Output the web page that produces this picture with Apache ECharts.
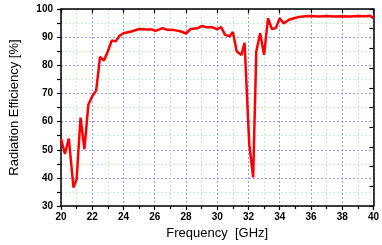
<!DOCTYPE html>
<html><head><meta charset="utf-8">
<script src="https://cdn.jsdelivr.net/npm/echarts@6/dist/echarts.min.js"></script>
<style>html,body{margin:0;padding:0;background:#fff}#c{width:382px;height:245px}</style>
</head><body><div id="c"></div>
<script>
const freq = [20, 20.25, 20.5, 20.8, 21.0, 21.25, 21.5, 21.75, 22, 22.25, 22.5, 22.75, 23, 23.25, 23.5, 23.75, 24, 24.5, 25, 25.5, 25.85, 26.05, 26.5, 26.8, 27.25, 27.7, 28, 28.3, 28.75, 29.05, 29.3, 29.7, 30, 30.25, 30.5, 30.8, 31, 31.25, 31.55, 31.75, 32.05, 32.3, 32.5, 32.75, 33, 33.25, 33.5, 33.75, 34, 34.25, 34.6, 34.9, 35.25, 35.6, 36, 36.5, 37, 37.5, 38, 38.5, 39, 39.5, 39.8, 40];
const efficiency = [54, 48.5, 54, 36.6, 39.6, 61.4, 50.2, 66, 69, 71, 83, 81.7, 85, 88.8, 88.5, 90.5, 91.4, 92, 92.9, 92.7, 92.7, 92.2, 93.2, 92.6, 92.5, 92, 91.3, 92.9, 93.2, 94, 93.5, 93.5, 92.8, 93.6, 90.8, 90.3, 91.8, 84.9, 83.7, 88, 52, 40.2, 84.9, 91.4, 83.7, 96.7, 92.9, 93.2, 96.7, 94.9, 96.2, 96.7, 97.2, 97.4, 97.5, 97.3, 97.5, 97.3, 97.4, 97.3, 97.5, 97.4, 97.6, 96.7];
const xTitle = 'Frequency  [GHz]';
const yTitle = 'Radiation Efficiency [%]';

const chart = echarts.init(document.getElementById('c'), null, {renderer: 'canvas'});
const labelStyle = {fontFamily: 'Liberation Sans, Arial, sans-serif', fontWeight: 'bold', fontSize: 10, color: '#000'};
const axisLine = {show: true, lineStyle: {color: '#000', width: 1.5}};
chart.setOption({
  animation: false,
  backgroundColor: '#fff',
  grid: {left: 60, right: 8, top: 9, bottom: 38},
  xAxis: [{
    type: 'value', min: 20, max: 40, interval: 2,
    name: xTitle, nameLocation: 'middle', nameGap: 20,
    nameTextStyle: {fontFamily: 'Liberation Sans, Arial, sans-serif', fontSize: 13, color: '#000'},
    axisLine: axisLine,
    axisTick: {show: true, inside: false, length: 4, lineStyle: {color: '#000', width: 1.2}},
    minorTick: {show: true, splitNumber: 2, length: 3, lineStyle: {color: '#000', width: 1.2}},
    axisLabel: Object.assign({margin: 6}, labelStyle),
    splitLine: {show: true, lineStyle: {color: '#9999ff', type: [2, 2], width: 1}},
    minorSplitLine: {show: true, lineStyle: {color: '#c4f0c4', type: [2, 2], width: 1}}
  }, {
    type: 'value', min: 20, max: 40, interval: 2, position: 'top',
    axisLine: axisLine,
    axisTick: {show: true, inside: true, length: 4, lineStyle: {color: '#000', width: 1.2}},
    axisLabel: {show: false}, splitLine: {show: false}
  }],
  yAxis: [{
    type: 'value', min: 30, max: 100, interval: 10,
    name: yTitle, nameLocation: 'middle', nameGap: 40,
    nameTextStyle: {fontFamily: 'Liberation Sans, Arial, sans-serif', fontSize: 13, color: '#000'},
    axisLine: axisLine,
    axisTick: {show: true, inside: false, length: 4, lineStyle: {color: '#000', width: 1.2}},
    minorTick: {show: true, splitNumber: 2, length: 4, lineStyle: {color: '#000', width: 1.2}},
    axisLabel: Object.assign({margin: 8}, labelStyle),
    splitLine: {show: true, lineStyle: {color: '#9999ff', type: [2, 2], width: 1}},
    minorSplitLine: {show: true, lineStyle: {color: '#c4f0c4', type: [2, 2], width: 1}}
  }, {
    type: 'value', min: 0, max: 10, interval: 1, position: 'right',
    axisLine: axisLine,
    axisTick: {show: true, inside: true, length: 4, lineStyle: {color: '#000', width: 1.2}},
    axisLabel: {show: false}, splitLine: {show: false}
  }],
  series: [{
    type: 'line', xAxisIndex: 0, yAxisIndex: 0,
    data: freq.map((f, i) => [f, efficiency[i]]),
    showSymbol: false, symbol: 'none',
    lineStyle: {color: '#ff0000', width: 2.5}
  }]
});
</script></body></html>
